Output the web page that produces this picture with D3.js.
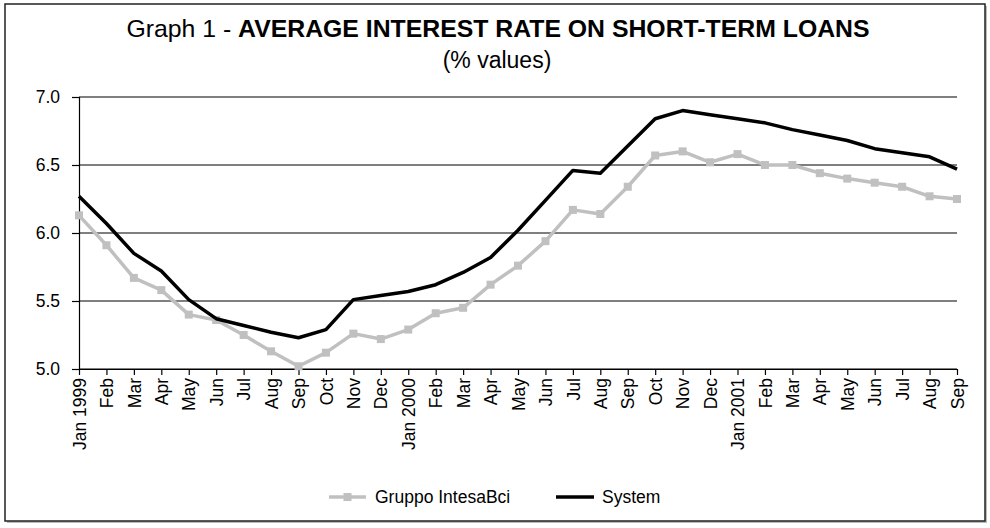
<!DOCTYPE html>
<html><head><meta charset="utf-8">
<script src="https://cdn.jsdelivr.net/npm/d3@7"></script>
<style>html,body{margin:0;padding:0;background:#fff;}svg{display:block;}</style>
</head><body>
<svg id="c" width="990" height="528"></svg>
<script>
const months = ["Jan 1999","Feb","Mar","Apr","May","Jun","Jul","Aug","Sep","Oct","Nov","Dec",
  "Jan 2000","Feb","Mar","Apr","May","Jun","Jul","Aug","Sep","Oct","Nov","Dec",
  "Jan 2001","Feb","Mar","Apr","May","Jun","Jul","Aug","Sep"];
const gruppo = [6.13,5.91,5.67,5.58,5.40,5.36,5.25,5.13,5.02,5.12,5.26,5.22,
  5.29,5.41,5.45,5.62,5.76,5.94,6.17,6.14,6.34,6.57,6.60,6.52,
  6.58,6.50,6.50,6.44,6.40,6.37,6.34,6.27,6.25];
const system = [6.27,6.07,5.85,5.72,5.51,5.37,5.32,5.27,5.23,5.29,5.51,5.54,
  5.57,5.62,5.71,5.82,6.02,6.24,6.46,6.44,6.64,6.84,6.90,6.87,
  6.84,6.81,6.76,6.72,6.68,6.62,6.59,6.56,6.47];
const yTicks = [5.0,5.5,6.0,6.5,7.0];
const seriesNames = ["Gruppo IntesaBci","System"];

const svg = d3.select("#c");
const font = "'Liberation Sans', Arial, sans-serif";

// frame with shadow
svg.append("rect").attr("x",7).attr("y",6).attr("width",980).attr("height",517).attr("fill","#bbb");
svg.append("rect").attr("x",5).attr("y",4).attr("width",980).attr("height",517)
  .attr("fill","#fff").attr("stroke","#222").attr("stroke-width",1.5);

const idx = months.map((m,i)=>i);
const x = d3.scalePoint().domain(idx).range([79,957]);
const y = d3.scaleLinear().domain([5,7]).range([369,97]);

// gridlines
svg.append("g").selectAll("line").data(yTicks).join("line")
  .attr("x1",79).attr("x2",957).attr("y1",d=>y(d)).attr("y2",d=>y(d))
  .attr("stroke","#000").attr("stroke-width",1.2);

// y axis
const ya = svg.append("g").attr("transform","translate(79,0)")
  .call(d3.axisLeft(y).tickValues(yTicks).tickFormat(d3.format(".1f")).tickSize(7).tickPadding(12));
ya.select(".domain").attr("stroke","#000").attr("stroke-width",1.2);
ya.selectAll(".tick line").attr("stroke","#000").attr("stroke-width",1.2);
ya.selectAll("text").attr("font-family",font).attr("font-size",17.5).attr("fill","#000");

// x axis
const xa = svg.append("g").attr("transform","translate(0,369)")
  .call(d3.axisBottom(x).tickFormat(i=>months[i]).tickSize(6).tickSizeOuter(0));
xa.select(".domain").attr("stroke","#000").attr("stroke-width",1.2);
xa.selectAll(".tick line").attr("stroke","#000").attr("stroke-width",1.2);
xa.selectAll("text").attr("font-family",font).attr("font-size",17.5).attr("fill","#000")
  .attr("transform","rotate(-90)").attr("text-anchor","end")
  .attr("x",-9).attr("y",0).attr("dy","0.35em");

// lines
const line = d3.line().x((d,i)=>x(i)).y(d=>y(d));
svg.append("path").datum(gruppo).attr("d",line).attr("fill","none")
  .attr("stroke","#c0c0c0").attr("stroke-width",3.5).attr("stroke-linejoin","round");
svg.append("g").selectAll("rect").data(gruppo).join("rect")
  .attr("x",(d,i)=>x(i)-4).attr("y",d=>y(d)-4).attr("width",8).attr("height",8).attr("fill","#c0c0c0");
svg.append("path").datum(system).attr("d",line).attr("fill","none")
  .attr("stroke","#000").attr("stroke-width",3.5).attr("stroke-linejoin","round");

// title
const t = svg.append("text").attr("x",498).attr("y",37).attr("text-anchor","middle")
  .attr("font-family",font).attr("font-size",24.8).attr("fill","#000");
t.append("tspan").text("Graph 1 - ");
t.append("tspan").attr("font-weight","bold").text("AVERAGE INTEREST RATE ON SHORT-TERM LOANS");
svg.append("text").attr("x",497).attr("y",68).attr("text-anchor","middle")
  .attr("font-family",font).attr("font-size",23).attr("fill","#000").text("(% values)");

// legend
const lg = svg.append("g");
lg.append("line").attr("x1",329).attr("x2",366).attr("y1",497).attr("y2",497)
  .attr("stroke","#c0c0c0").attr("stroke-width",3.5);
lg.append("rect").attr("x",343.5).attr("y",493).attr("width",8).attr("height",8).attr("fill","#c0c0c0");
lg.append("text").attr("x",375).attr("y",497).attr("dy","0.35em").attr("font-family",font)
  .attr("font-size",17.5).attr("fill","#000").text(seriesNames[0]);
lg.append("line").attr("x1",556).attr("x2",594).attr("y1",497).attr("y2",497)
  .attr("stroke","#000").attr("stroke-width",3.5);
lg.append("text").attr("x",602).attr("y",497).attr("dy","0.35em").attr("font-family",font)
  .attr("font-size",17.5).attr("fill","#000").text(seriesNames[1]);
</script>
</body></html>
